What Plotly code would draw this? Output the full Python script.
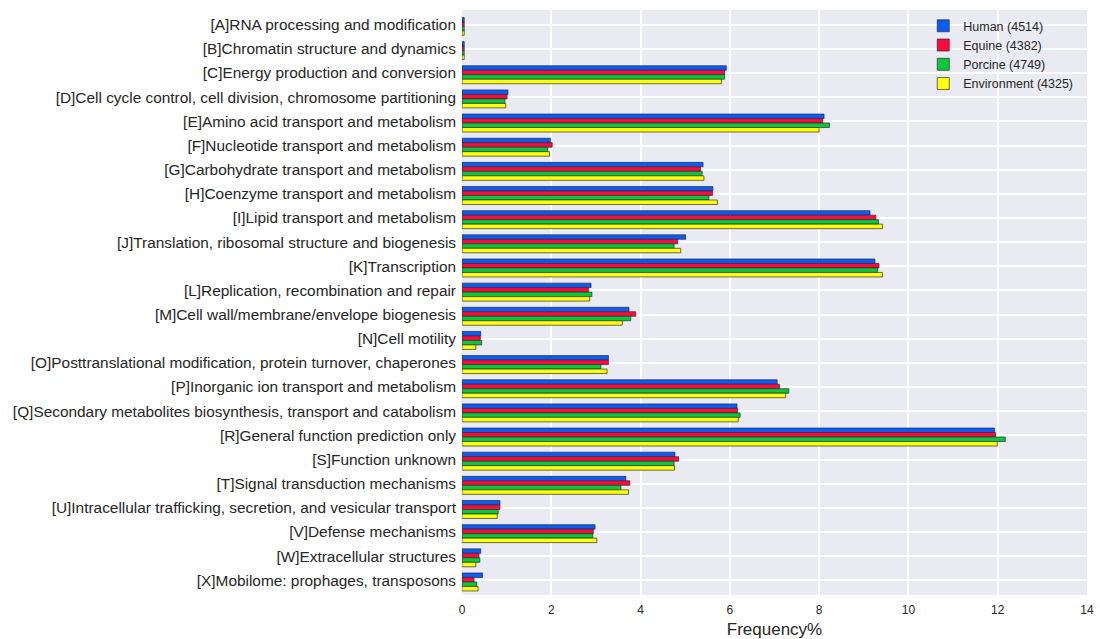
import plotly.graph_objects as go

categories = [
    "[A]RNA processing and modification",
    "[B]Chromatin structure and dynamics",
    "[C]Energy production and conversion",
    "[D]Cell cycle control, cell division, chromosome partitioning",
    "[E]Amino acid transport and metabolism",
    "[F]Nucleotide transport and metabolism",
    "[G]Carbohydrate transport and metabolism",
    "[H]Coenzyme transport and metabolism",
    "[I]Lipid transport and metabolism",
    "[J]Translation, ribosomal structure and biogenesis",
    "[K]Transcription",
    "[L]Replication, recombination and repair",
    "[M]Cell wall/membrane/envelope biogenesis",
    "[N]Cell motility",
    "[O]Posttranslational modification, protein turnover, chaperones",
    "[P]Inorganic ion transport and metabolism",
    "[Q]Secondary metabolites biosynthesis, transport and catabolism",
    "[R]General function prediction only",
    "[S]Function unknown",
    "[T]Signal transduction mechanisms",
    "[U]Intracellular trafficking, secretion, and vesicular transport",
    "[V]Defense mechanisms",
    "[W]Extracellular structures",
    "[X]Mobilome: prophages, transposons",
]

human = [0.05, 0.05, 5.92, 1.03, 8.11, 1.98, 5.40, 5.62, 9.14, 5.01, 9.25, 2.89,
         3.74, 0.42, 3.28, 7.06, 6.16, 11.93, 4.77, 3.67, 0.85, 2.98, 0.42, 0.46]
equine = [0.05, 0.05, 5.88, 1.01, 8.08, 2.02, 5.34, 5.61, 9.27, 4.83, 9.34, 2.83,
          3.89, 0.41, 3.28, 7.11, 6.17, 11.95, 4.85, 3.76, 0.85, 2.94, 0.38, 0.27]
porcine = [0.05, 0.05, 5.88, 0.96, 8.23, 1.92, 5.38, 5.53, 9.33, 4.75, 9.31, 2.91,
           3.78, 0.44, 3.11, 7.32, 6.23, 12.17, 4.75, 3.56, 0.81, 2.93, 0.40, 0.33]
environment = [0.05, 0.05, 5.81, 0.98, 8.00, 1.96, 5.42, 5.72, 9.42, 4.90, 9.42, 2.86,
               3.59, 0.31, 3.25, 7.25, 6.19, 11.99, 4.76, 3.73, 0.79, 3.02, 0.31, 0.36]

series_names = ["Human (4514)", "Equine (4382)", "Porcine (4749)", "Environment (4325)"]
series_values = [human, equine, porcine, environment]
colors = ["#0A5CF5", "#FF0A3C", "#0AC83C", "#FFFF0A"]

x_ticks = [0, 2, 4, 6, 8, 10, 12, 14]

bar_w = 0.186
offsets = [-0.302, -0.116, 0.070, 0.256]

fig = go.Figure()
for name, vals, col, off in zip(series_names, series_values, colors, offsets):
    fig.add_trace(go.Bar(
        y=categories, x=vals, orientation="h", name=name,
        marker=dict(color=col, line=dict(color="rgba(40,40,50,0.85)", width=0.8)),
        width=bar_w, offset=off,
    ))

font_family = "Liberation Sans, Arial, Helvetica, sans-serif"

fig.update_layout(
    width=1100, height=639,
    barmode="overlay",
    paper_bgcolor="white",
    plot_bgcolor="#EAEAF2",
    margin=dict(l=462, r=13, t=10, b=44, autoexpand=False),
    font=dict(family=font_family, color="#262626"),
    showlegend=True,
    legend=dict(
        x=0.738, y=0.998, xanchor="left", yanchor="top",
        bgcolor="rgba(0,0,0,0)", font=dict(size=12.5, color="#262626"),
        itemwidth=30,
    ),
    xaxis=dict(
        range=[0, 14], tickvals=x_ticks, ticktext=[str(t) for t in x_ticks],
        showgrid=True, gridcolor="white", gridwidth=1.5, zeroline=False,
        showline=False, ticks="", tickfont=dict(size=12, color="#262626"),
        ticklabelstandoff=6, automargin=False,
        title=dict(text="Frequency%", font=dict(size=17, color="#262626"), standoff=8),
    ),
    yaxis=dict(
        type="category", categoryorder="array", categoryarray=categories,
        range=[len(categories) - 1 + 0.61, -0.61],
        showgrid=True, gridcolor="white", gridwidth=1.5, zeroline=False,
        showline=False, ticks="", tickfont=dict(size=15.4, color="#262626"),
        ticklabelstandoff=5, automargin=False,
    ),
)

fig.write_html(
    "out.html",
    config={"displayModeBar": False},
    post_script="document.body.style.margin='0';document.body.style.overflow='hidden';",
)
